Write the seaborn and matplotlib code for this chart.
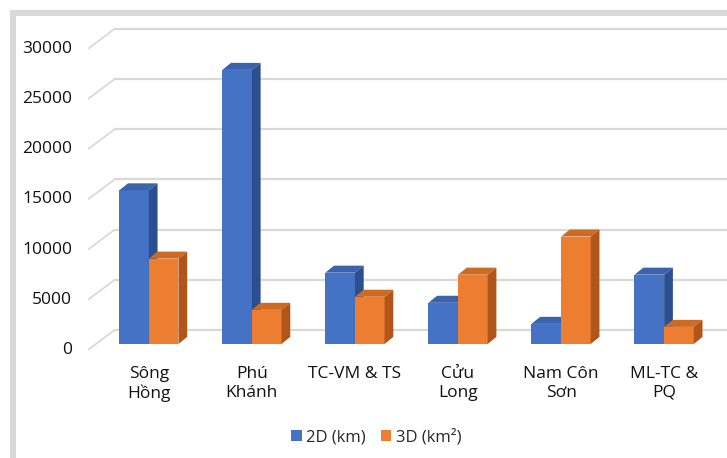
import matplotlib
matplotlib.use("Agg")
import matplotlib.pyplot as plt
from matplotlib.patches import Polygon, Rectangle
import seaborn as sns
import pandas as pd

# Seismic survey volume per basin
basins = ["Sông\nHồng", "Phú\nKhánh", "TC-VM & TS", "Cửu\nLong", "Nam Côn\nSơn", "ML-TC &\nPQ"]
seismic_2d_km = [15300, 27300, 7100, 4100, 2000, 6900]
seismic_3d_km2 = [8500, 3400, 4700, 6900, 10700, 1700]
series_names = ["2D (km)", "3D (km²)"]
y_ticks = [0, 5000, 10000, 15000, 20000, 25000, 30000]

front_colors = ["#4472C4", "#ED7D31"]
side_colors = ["#2C4F8F", "#B0561B"]
top_colors = ["#3A62AD", "#CF6A22"]
grid_color = "#d9d9d9"

df = pd.DataFrame({
    "basin": basins * 2,
    "value": seismic_2d_km + seismic_3d_km2,
    "series": [series_names[0]] * len(basins) + [series_names[1]] * len(basins),
})

sns.set_theme(style="white")
plt.rcParams["font.family"] = ["Open Sans", "DejaVu Sans"]

W, H = 727, 458
fig = plt.figure(figsize=(W / 100, H / 100), dpi=100)
ax = fig.add_axes([88 / W, 1 - 355 / H, 1 - 88 / W, (355 - 20) / H])

sns.barplot(data=df, x="basin", y="value", hue="series", palette=front_colors,
            width=0.575, saturation=1, errorbar=None, linewidth=0, ax=ax)

# pseudo-3D geometry (depth expressed in data units)
dx, dy = 0.085, 700          # bar depth
wall_dx, wall_dy = 0.26, 1400  # floor depth to the back wall
front_drop = 600             # front floor edge sits slightly below the bar base
x_left, x_right = -0.59, 5.61

ax.set_xlim(x_left, x_right)
ax.set_ylim(-1100, 32270)

# back wall gridlines and side wall diagonals
for v in y_ticks:
    ax.plot([x_left, x_left + wall_dx], [v - front_drop, v + wall_dy],
            color=grid_color, lw=1.3, zorder=0.5, solid_capstyle="butt")
    ax.plot([x_left + wall_dx, x_right], [v + wall_dy, v + wall_dy],
            color=grid_color, lw=1.6, zorder=0.5)

# top and side faces for each bar
for i, container in enumerate(ax.containers):
    base_z = 2 + 2 * i
    for r in container:
        r.set_zorder(base_z)
        x0, w, h = r.get_x(), r.get_width(), r.get_height()
        x1 = x0 + w
        top = Polygon([(x0, h), (x1, h), (x1 + dx, h + dy), (x0 + dx, h + dy)],
                      closed=True, facecolor=top_colors[i], edgecolor="none",
                      zorder=base_z + 0.5)
        side = Polygon([(x1, 0), (x1 + dx, dy), (x1 + dx, h + dy), (x1, h)],
                       closed=True, facecolor=side_colors[i], edgecolor="none",
                       zorder=base_z + 0.5)
        ax.add_patch(top)
        ax.add_patch(side)

ax.set_yticks([v - 400 for v in y_ticks], labels=[str(v) for v in y_ticks])
ax.set_xlabel("")
ax.set_ylabel("")
ax.tick_params(axis="y", length=0, pad=11.5, labelsize=12.5, labelcolor="#111111")
ax.tick_params(axis="x", length=0, pad=8, labelsize=12.5, labelcolor="#111111")
for s in ax.spines.values():
    s.set_visible(False)
ax.grid(False)

handles, labels = ax.get_legend_handles_labels()
ax.legend_.remove()
fig.legend(handles, labels, loc="center", bbox_to_anchor=(376 / W, 1 - 437 / H),
           ncol=2, frameon=False, fontsize=12, handlelength=0.65, handleheight=0.65,
           handletextpad=0.25, columnspacing=0.9, borderpad=0)

# light grey frame along the top and left edges
fig.patches.append(Rectangle((10 / W, 0), 6 / W, (H - 10) / H, transform=fig.transFigure,
                             facecolor=grid_color, edgecolor="none"))
fig.patches.append(Rectangle((10 / W, 1 - 16 / H), 1, 6 / H, transform=fig.transFigure,
                             facecolor=grid_color, edgecolor="none"))

fig.savefig("out.png", dpi=100, facecolor="white")
